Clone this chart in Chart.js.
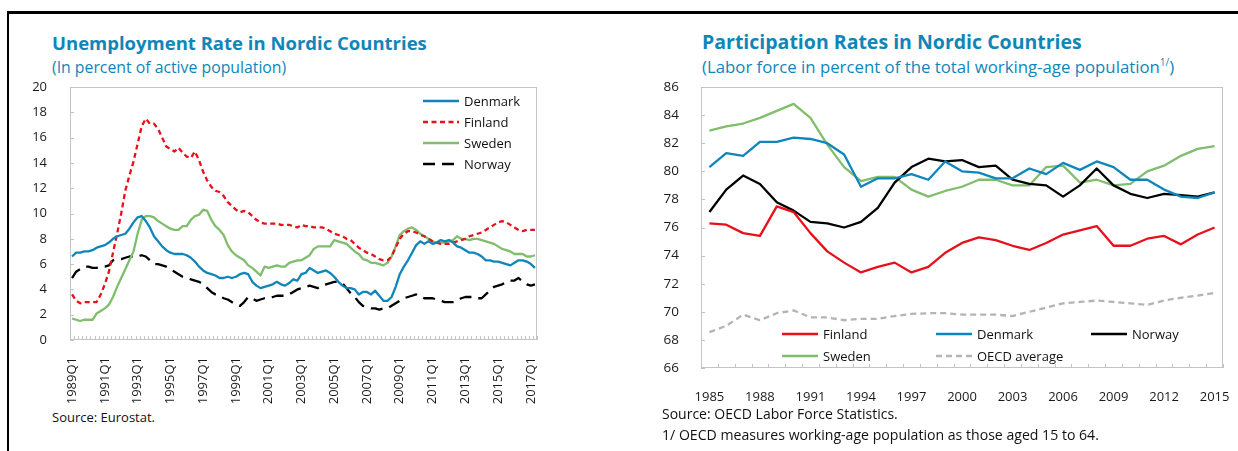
<!DOCTYPE html>
<html>
<head>
<meta charset="utf-8">
<script src="https://cdn.jsdelivr.net/npm/chart.js@4.4.1/dist/chart.umd.min.js"></script>
<style>
  html, body { margin: 0; padding: 0; background: #fff; }
  body { width: 1238px; height: 451px; position: relative; overflow: hidden; font-family: "Open Sans", "DejaVu Sans", sans-serif; }
  .frame-top { position: absolute; left: 7px; top: 11px; width: 1231px; height: 0; border-top: 3px solid #000; }
  .frame-left { position: absolute; left: 7px; top: 11px; width: 0; height: 440px; border-left: 2px solid #000; }
  .title { position: absolute; color: #0f86b8; font-weight: 700; line-height: 22px; white-space: nowrap; }
  .sub { position: absolute; color: #0f86b8; line-height: 20px; white-space: nowrap; }
  .sub sup { font-size: 10px; vertical-align: 7px; line-height: 0; }
  .note { position: absolute; color: #111; line-height: 18px; white-space: nowrap; }
  canvas { position: absolute; }
  .leg { position: absolute; display: flex; align-items: center; font-size: 13px; line-height: 16px; color: #111; white-space: nowrap; }
  .leg svg { margin-right: 5px; }
</style>
</head>
<body>
<div class="frame-top"></div>
<div class="frame-left"></div>

<div class="title" style="left:52px; top:32px; font-size:18.5px;">Unemployment Rate in Nordic Countries</div>
<div class="sub" style="left:52px; top:57px; font-size:15.8px;">(In percent of active population)</div>
<div class="title" style="left:702px; top:31px; font-size:19.5px;">Participation Rates in Nordic Countries</div>
<div class="sub" style="left:702px; top:57px; font-size:16.8px;">(Labor force in percent of the total working-age population<sup>1/</sup>)</div>

<canvas id="unemp" width="545" height="330" style="left:0px; top:78px; width:545px; height:330px;"></canvas>
<canvas id="partic" width="618" height="340" style="left:620px; top:78px; width:618px; height:340px;"></canvas>

<div class="note" style="left:52px; top:408px; font-size:13px;">Source: Eurostat.</div>
<div class="note" style="left:662px; top:405px; font-size:14px;">Source: OECD Labor Force Statistics.</div>
<div class="note" style="left:662px; top:426px; font-size:14.1px;">1/ OECD measures working-age population as those aged 15 to 64.</div>

<div id="legends"></div>

<script>
// ---------------- DATA ----------------
// Quarterly categories 1989Q1 .. 2017Q2
const quarterLabels = [];
for (let yr = 1989; yr <= 2017; yr++) { for (let q = 1; q <= 4; q++) { quarterLabels.push(yr + 'Q' + q); } }
quarterLabels.length = 114;

const unempDenmark = [
  6.6, 6.9, 6.9, 7.0, 7.0, 7.1, 7.3, 7.4,
  7.5, 7.7, 8.0, 8.2, 8.3, 8.4, 8.8, 9.3,
  9.7, 9.8, 9.4, 8.9, 8.2, 7.8, 7.4, 7.1,
  6.9, 6.8, 6.8, 6.8, 6.7, 6.5, 6.2, 5.8,
  5.5, 5.3, 5.2, 5.1, 4.9, 4.9, 5.0, 4.9,
  5.0, 5.2, 5.3, 5.2, 4.6, 4.3, 4.1, 4.2,
  4.3, 4.4, 4.6, 4.4, 4.3, 4.5, 4.8, 4.7,
  5.2, 5.3, 5.7, 5.5, 5.3, 5.4, 5.5, 5.3,
  5.0, 4.6, 4.3, 4.1, 4.1, 4.0, 3.6, 3.8,
  3.8, 3.6, 3.9, 3.5, 3.1, 3.1, 3.4, 4.2,
  5.2, 5.8, 6.3, 6.9, 7.5, 7.8, 7.6, 7.8,
  7.6, 7.7, 7.9, 7.8, 7.9, 7.7, 7.4, 7.3,
  7.1, 6.9, 6.9, 6.8, 6.6, 6.3, 6.3, 6.2,
  6.2, 6.1, 6.0, 5.9, 6.1, 6.3, 6.3, 6.2,
  6.0, 5.7
];
const unempFinland = [
  3.6, 3.1, 2.9, 3.0, 3.0, 3.0, 3.0, 3.6,
  4.4, 5.4, 6.9, 8.4, 10.0, 11.8, 13.0, 14.1,
  15.5, 16.9, 17.5, 17.1, 17.1, 16.7, 16.0, 15.3,
  15.1, 14.9, 15.2, 14.8, 14.5, 14.4, 14.9, 14.2,
  13.3, 12.6, 12.1, 11.8, 11.7, 11.4, 10.9, 10.6,
  10.3, 10.1, 10.2, 10.1, 9.8, 9.5, 9.3, 9.2,
  9.2, 9.2, 9.2, 9.1, 9.1, 9.1, 9.0, 8.9,
  9.1, 9.0, 9.0, 8.9, 8.9, 8.9, 8.8, 8.6,
  8.4, 8.3, 8.2, 8.0, 7.9, 7.6, 7.3, 7.1,
  6.9, 6.8, 6.6, 6.4, 6.3, 6.3, 6.6, 7.3,
  8.0, 8.4, 8.6, 8.6, 8.5, 8.3, 8.2, 8.0,
  7.8, 7.7, 7.6, 7.6, 7.6, 7.7, 7.8, 7.9,
  8.0, 8.2, 8.3, 8.4, 8.5, 8.7, 8.9, 9.1,
  9.3, 9.4, 9.3, 9.1, 8.9, 8.7, 8.6, 8.7,
  8.7, 8.7
];
const unempSweden = [
  1.7, 1.6, 1.5, 1.6, 1.6, 1.6, 2.1, 2.3,
  2.5, 2.8, 3.4, 4.2, 4.9, 5.6, 6.3, 7.0,
  8.4, 9.5, 9.8, 9.8, 9.7, 9.4, 9.2, 9.0,
  8.8, 8.7, 8.7, 9.0, 9.0, 9.5, 9.8, 9.9,
  10.3, 10.2, 9.5, 9.0, 8.7, 8.3, 7.5, 7.0,
  6.7, 6.5, 6.3, 5.9, 5.7, 5.4, 5.1, 5.8,
  5.7, 5.8, 5.9, 5.8, 5.8, 6.1, 6.2, 6.3,
  6.3, 6.5, 6.7, 7.2, 7.4, 7.4, 7.4, 7.4,
  7.9, 7.8, 7.7, 7.6, 7.3, 7.0, 6.8, 6.4,
  6.3, 6.1, 6.1, 6.0, 5.9, 6.1, 6.6, 7.4,
  8.3, 8.6, 8.8, 8.9, 8.7, 8.4, 8.2, 8.0,
  7.8, 7.7, 7.7, 7.7, 7.8, 7.9, 8.2, 8.0,
  8.0, 7.9, 8.0, 8.0, 7.9, 7.8, 7.7, 7.6,
  7.4, 7.2, 7.1, 7.0, 6.8, 6.8, 6.8, 6.6,
  6.6, 6.7
];
const unempNorway = [
  4.9, 5.4, 5.6, 5.8, 5.8, 5.7, 5.7, 5.8,
  5.8, 5.9, 6.3, 6.4, 6.4, 6.5, 6.6, 6.6,
  6.6, 6.7, 6.6, 6.3, 6.0, 6.0, 5.9, 5.8,
  5.6, 5.4, 5.2, 5.0, 4.9, 4.8, 4.7, 4.6,
  4.4, 4.1, 3.8, 3.6, 3.5, 3.3, 3.2, 3.0,
  2.8, 2.7, 3.0, 3.4, 3.3, 3.1, 3.2, 3.3,
  3.3, 3.4, 3.5, 3.5, 3.5, 3.6, 3.8, 4.0,
  4.1, 4.2, 4.3, 4.2, 4.1, 4.3, 4.4, 4.5,
  4.6, 4.6, 4.5, 4.1, 3.7, 3.4, 3.0, 2.7,
  2.6, 2.5, 2.5, 2.4, 2.5, 2.5, 2.7, 2.9,
  3.1, 3.3, 3.4, 3.5, 3.6, 3.4, 3.3, 3.3,
  3.3, 3.2, 3.1, 3.0, 3.0, 3.0, 3.1, 3.3,
  3.4, 3.4, 3.4, 3.3, 3.3, 3.6, 3.9, 4.2,
  4.3, 4.4, 4.6, 4.7, 4.7, 4.9, 4.6, 4.4,
  4.3, 4.4
];
const unempTicks = { min: 0, max: 20, step: 2 };

// Annual categories 1985 .. 2015
const years = ['1985','1986','1987','1988','1989','1990','1991','1992','1993','1994','1995','1996','1997','1998','1999','2000',
               '2001','2002','2003','2004','2005','2006','2007','2008','2009','2010','2011','2012','2013','2014','2015'];
const partFinland = [76.3, 76.2, 75.6, 75.4, 77.5, 77.1, 75.6, 74.3, 73.5, 72.8, 73.2, 73.5, 72.8, 73.2, 74.2, 74.9,
                     75.3, 75.1, 74.7, 74.4, 74.9, 75.5, 75.8, 76.1, 74.7, 74.7, 75.2, 75.4, 74.8, 75.5, 76.0];
const partDenmark = [80.3, 81.3, 81.1, 82.1, 82.1, 82.4, 82.3, 82.0, 81.2, 78.9, 79.5, 79.5, 79.8, 79.4, 80.7, 80.0,
                     79.9, 79.5, 79.5, 80.2, 79.8, 80.6, 80.1, 80.7, 80.3, 79.4, 79.4, 78.7, 78.2, 78.1, 78.5];
const partNorway  = [77.1, 78.7, 79.7, 79.1, 77.8, 77.2, 76.4, 76.3, 76.0, 76.4, 77.4, 79.2, 80.3, 80.9, 80.7, 80.8,
                     80.3, 80.4, 79.4, 79.1, 79.0, 78.2, 79.0, 80.2, 79.0, 78.4, 78.1, 78.4, 78.3, 78.2, 78.5];
const partSweden  = [82.9, 83.2, 83.4, 83.8, 84.3, 84.8, 83.8, 81.9, 80.3, 79.3, 79.6, 79.6, 78.7, 78.2, 78.6, 78.9,
                     79.4, 79.4, 79.0, 79.0, 80.3, 80.4, 79.2, 79.4, 79.0, 79.1, 80.0, 80.4, 81.1, 81.6, 81.8];
const partOECD    = [68.55, 69.0, 69.8, 69.4, 69.9, 70.1, 69.6, 69.6, 69.4, 69.5, 69.5, 69.7, 69.85, 69.9, 69.9, 69.8,
                     69.8, 69.8, 69.7, 70.0, 70.3, 70.6, 70.7, 70.8, 70.7, 70.6, 70.5, 70.8, 71.0, 71.15, 71.35];
const partTicks = { min: 66, max: 86, step: 2 };

// ---------------- STYLE ----------------
const C_BLUE = '#0f86bb', C_RED = '#e8101a', C_GREEN = '#80bd6c', C_BLACK = '#000000', C_GREY = '#b4b4b4';
const FONT = '"Open Sans", "DejaVu Sans", sans-serif';
const TXT = '#1a1a1a';

// Plot frame + inside tick marks, positioned from the chart's own scales
const framePlugin = {
  id: 'frame',
  beforeDatasetsDraw(chart, args, opts) {
    const { ctx, chartArea: a, scales: { x, y } } = chart;
    ctx.save();
    ctx.strokeStyle = opts.color;
    ctx.lineWidth = 1;
    ctx.strokeRect(Math.round(a.left) + 0.5, Math.round(a.top) + 0.5, Math.round(a.right - a.left) - 1, Math.round(a.bottom - a.top) - 1);
    ctx.beginPath();
    const n = x.ticks.length;
    for (let i = 0; i <= n; i++) {
      let px;
      if (i === 0) px = a.left;
      else if (i === n) px = a.right;
      else px = (x.getPixelForTick(i - 1) + x.getPixelForTick(i)) / 2;
      px = Math.round(px) + 0.5;
      ctx.moveTo(px, a.bottom);
      ctx.lineTo(px, a.bottom - opts.tick);
    }
    y.ticks.forEach(t => {
      const py = Math.round(y.getPixelForValue(t.value)) + 0.5;
      ctx.moveTo(a.left, py);
      ctx.lineTo(a.left + opts.tick, py);
    });
    ctx.stroke();
    ctx.restore();
  }
};

function lineDs(label, data, color, dash, width) {
  return { label, data, borderColor: color, backgroundColor: color, borderDash: dash, borderWidth: width,
           pointRadius: 0, tension: 0, fill: false, borderCapStyle: 'butt', borderJoinStyle: 'round' };
}
// fixed axis sizes, no automatic label overflow padding (layout.padding handles it)
function fixX(h) { return s => { s.height = h; s.paddingLeft = 0; s.paddingRight = 0; }; }
function fixY(w) { return s => { s.width = w; s.paddingTop = 0; s.paddingBottom = 0; }; }

// ---------------- LEFT CHART ----------------
const unempSeries = [
  lineDs('Denmark', unempDenmark, C_BLUE, [], 2.3),
  lineDs('Finland', unempFinland, C_RED, [5, 3.5], 2.3),
  lineDs('Sweden', unempSweden, C_GREEN, [], 2.3),
  lineDs('Norway', unempNorway, C_BLACK, [12, 7], 2.3)
];

new Chart(document.getElementById('unemp'), {
  type: 'line',
  data: { labels: quarterLabels, datasets: unempSeries },
  plugins: [framePlugin],
  options: {
    responsive: false, animation: false, devicePixelRatio: 1,
    layout: { padding: { top: 9, right: 8, left: 0, bottom: 0 } },
    plugins: { legend: { display: false }, tooltip: { enabled: false }, frame: { color: '#c4c4c4', tick: 4 } },
    scales: {
      x: {
        type: 'category', offset: true,
        grid: { display: false }, border: { display: false },
        ticks: { autoSkip: false, minRotation: 90, maxRotation: 90, padding: 9, color: TXT,
                 font: { family: FONT, size: 13 },
                 callback: (v, i) => (i % 8 === 0 ? quarterLabels[i] : '') },
        afterFit: fixX(68)
      },
      y: {
        min: unempTicks.min, max: unempTicks.max,
        grid: { display: false }, border: { display: false },
        ticks: { stepSize: unempTicks.step, padding: 15, color: TXT, font: { family: FONT, size: 13 } },
        afterFit: fixY(70)
      }
    }
  }
});

// ---------------- RIGHT CHART ----------------
const partSeries = [
  lineDs('Finland', partFinland, C_RED, [], 2.3),
  lineDs('Denmark', partDenmark, C_BLUE, [], 2.3),
  lineDs('Norway', partNorway, C_BLACK, [], 2.3),
  lineDs('Sweden', partSweden, C_GREEN, [], 2.3),
  lineDs('OECD average', partOECD, C_GREY, [6, 4], 2.3)
];

new Chart(document.getElementById('partic'), {
  type: 'line',
  data: { labels: years, datasets: partSeries },
  plugins: [framePlugin],
  options: {
    responsive: false, animation: false, devicePixelRatio: 1,
    layout: { padding: { top: 9, right: 15, left: 0, bottom: 0 } },
    plugins: { legend: { display: false }, tooltip: { enabled: false }, frame: { color: '#c4c4c4', tick: 4 } },
    scales: {
      x: {
        type: 'category', offset: true,
        grid: { display: false }, border: { display: false },
        ticks: { autoSkip: false, maxRotation: 0, minRotation: 0, padding: 13, color: TXT,
                 font: { family: FONT, size: 13 },
                 callback: (v, i) => (i % 3 === 0 ? years[i] : '') },
        afterFit: fixX(50)
      },
      y: {
        min: partTicks.min, max: partTicks.max,
        grid: { display: false }, border: { display: false },
        ticks: { stepSize: partTicks.step, padding: 14, color: TXT, font: { family: FONT, size: 13.5 } },
        afterFit: fixY(81)
      }
    }
  }
});

// ---------------- LEGENDS (HTML) ----------------
const legendLayout = [
  // left chart: stacked, top-right inside plot
  { ds: unempSeries[0], x: 423, y: 101 },
  { ds: unempSeries[1], x: 423, y: 122 },
  { ds: unempSeries[2], x: 423, y: 143 },
  { ds: unempSeries[3], x: 423, y: 164 },
  // right chart: two rows at bottom of plot
  { ds: partSeries[0], x: 782, y: 334 },
  { ds: partSeries[1], x: 936, y: 334 },
  { ds: partSeries[2], x: 1091, y: 334 },
  { ds: partSeries[3], x: 782, y: 356 },
  { ds: partSeries[4], x: 936, y: 356 }
];
const host = document.getElementById('legends');
legendLayout.forEach(item => {
  const d = item.ds;
  const el = document.createElement('div');
  el.className = 'leg';
  el.style.left = item.x + 'px';
  el.style.top = (item.y - 8) + 'px';
  const dash = d.borderDash && d.borderDash.length ? d.borderDash.join(',') : 'none';
  el.innerHTML = '<svg width="36" height="16"><line x1="0" y1="8" x2="36" y2="8" stroke="' + d.borderColor +
    '" stroke-width="' + d.borderWidth + '" stroke-dasharray="' + dash + '"/></svg><span>' + d.label + '</span>';
  host.appendChild(el);
});
</script>
</body>
</html>
